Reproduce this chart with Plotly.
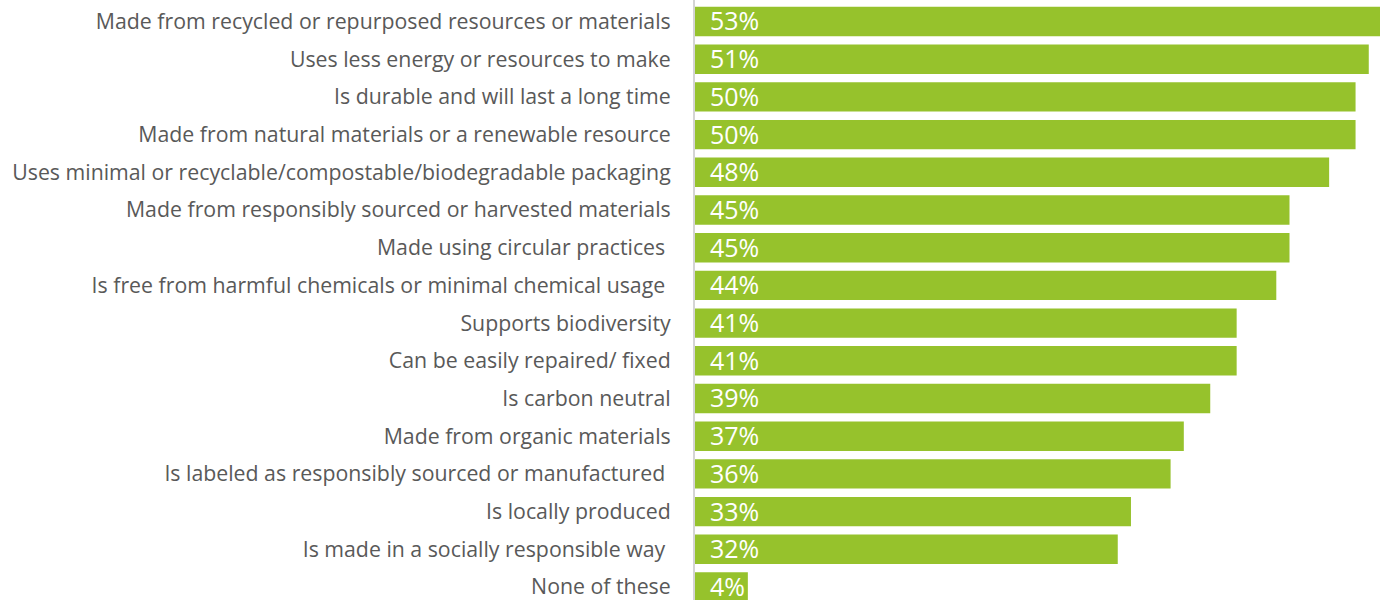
import plotly.graph_objects as go

categories = [
    "Made from recycled or repurposed resources or materials",
    "Uses less energy or resources to make",
    "Is durable and will last a long time",
    "Made from natural materials or a renewable resource",
    "Uses minimal or recyclable/compostable/biodegradable packaging",
    "Made from responsibly sourced or harvested materials",
    "Made using circular practices\u00a0",
    "Is free from harmful chemicals or minimal chemical usage\u00a0",
    "Supports biodiversity",
    "Can be easily repaired/ fixed",
    "Is carbon neutral",
    "Made from organic materials",
    "Is labeled as responsibly sourced or manufactured\u00a0",
    "Is locally produced",
    "Is made in a socially responsible way\u00a0",
    "None of these",
]
values = [53, 51, 50, 50, 48, 45, 45, 44, 41, 41, 39, 37, 36, 33, 32, 4]

GREEN = "#96C22C"
LABEL = "#595959"
FONT = "Open Sans"

fig = go.Figure(
    go.Bar(
        x=values,
        y=categories,
        orientation="h",
        marker=dict(color=GREEN, line=dict(width=0)),
        hoverinfo="skip",
    )
)

for c, v in zip(categories, values):
    fig.add_annotation(
        x=0, y=c, xref="x", yref="y",
        text=f"{v}%", showarrow=False,
        xanchor="left", yanchor="middle", xshift=13, yshift=1,
        font=dict(family=FONT, size=25, color="white"),
    )

fig.update_layout(
    width=1380, height=600,
    margin=dict(l=695, r=0, t=0, b=0),
    paper_bgcolor="white", plot_bgcolor="white",
    bargap=0.22,
    showlegend=False,
    font=dict(family=FONT, color=LABEL, size=21.3),
)
fig.update_xaxes(
    range=[0, 51.85], visible=True, showgrid=False, zeroline=False,
    showticklabels=False, ticks="", showline=False,
)
fig.update_yaxes(
    type="category", categoryorder="array", categoryarray=categories,
    range=[15.345, -0.570], showgrid=False, zeroline=False,
    showline=True, linecolor="#d4d4d4", linewidth=2,
    ticks="", ticklabelstandoff=18,
    tickfont=dict(family=FONT, size=21.3, color=LABEL),
)

fig.write_html("out.html")
